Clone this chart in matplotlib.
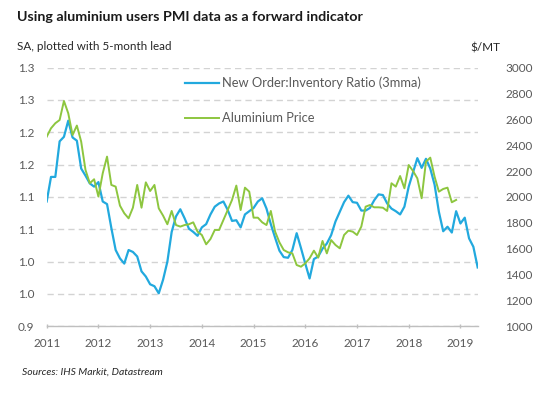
import numpy as np
import matplotlib
matplotlib.use("Agg")
import matplotlib.pyplot as plt

plt.rcParams['font.family'] = ['Lato', 'DejaVu Sans']

# Monthly data, Jan 2011 onward
ratio = [1.093, 1.131, 1.131, 1.186, 1.193, 1.218, 1.192, 1.187, 1.144, 1.133,
         1.121, 1.116, 1.123, 1.093, 1.089, 1.052, 1.018, 1.005, 0.997, 1.018,
         1.015, 1.008, 0.985, 0.977, 0.965, 0.962, 0.951, 0.972, 1.000, 1.046,
         1.070, 1.081, 1.067, 1.051, 1.046, 1.040, 1.053, 1.058, 1.073, 1.085,
         1.090, 1.093, 1.080, 1.063, 1.064, 1.053, 1.073, 1.078, 1.083, 1.093,
         1.098, 1.082, 1.058, 1.037, 1.017, 1.007, 1.006, 1.018, 1.044, 1.021,
         0.997, 0.974, 1.004, 1.008, 1.020, 1.028, 1.041, 1.062, 1.077, 1.092,
         1.102, 1.092, 1.091, 1.079, 1.079, 1.083, 1.095, 1.104, 1.103, 1.090,
         1.082, 1.078, 1.073, 1.085, 1.116, 1.138, 1.160, 1.145, 1.159, 1.144,
         1.119, 1.077, 1.047, 1.054, 1.045, 1.078, 1.059, 1.068, 1.036, 1.023,
         0.991]

price = [2466, 2531, 2570, 2595, 2742, 2647, 2479, 2552, 2428, 2209,
         2106, 2137, 2003, 2183, 2312, 2093, 2080, 1933, 1874, 1835,
         1917, 2093, 1917, 2113, 2046, 2093, 1912, 1856, 1789, 1892,
         1783, 1771, 1783, 1789, 1804, 1732, 1706, 1634, 1675, 1745,
         1745, 1822, 1899, 1977, 2088, 1899, 2072, 2041, 1840, 1840,
         1804, 1783, 1892, 1732, 1649, 1590, 1572, 1564, 1474, 1461,
         1487, 1526, 1585, 1531, 1660, 1564, 1667, 1629, 1603, 1706,
         1740, 1732, 1706, 1771, 1925, 1938, 1920, 1920, 1917, 1892,
         2106, 2080, 2162, 2067, 2247, 2201, 2144, 1990, 2273, 2304,
         2157, 2041, 2062, 2072, 1959, 1977]

years = ['2011', '2012', '2013', '2014', '2015', '2016', '2017', '2018', '2019']
left_ticks = [0.9, 0.95, 1.0, 1.05, 1.1, 1.15, 1.2, 1.25, 1.3]
left_labels = ['0.9', '1.0', '1.0', '1.1', '1.1', '1.2', '1.2', '1.3', '1.3']
right_ticks = [1000, 1200, 1400, 1600, 1800, 2000, 2200, 2400, 2600, 2800, 3000]

BLUE = '#22a9de'
GREEN = '#8dc63f'
GREY = '#595959'

fig = plt.figure(figsize=(5.43, 3.97), dpi=100)
ax = fig.add_axes([0.086, 0.178, 0.7937, 0.6517])
ax2 = ax.twinx()

x1 = np.arange(len(ratio))
x2 = np.arange(len(price))
l1, = ax.plot(x1, ratio, color=BLUE, lw=1.6, label='New Order:Inventory Ratio (3mma)')
l2, = ax2.plot(x2, price, color=GREEN, lw=1.4, label='Aluminium Price')

ax.set_xlim(0, 100)
ax.set_ylim(0.9, 1.3)
ax2.set_ylim(1000, 3000)

ax.set_yticks(left_ticks)
ax.set_yticklabels(left_labels)
ax2.set_yticks(right_ticks)
ax.set_xticks(np.arange(0, 97, 12))
ax.set_xticklabels(years)

for a in (ax, ax2):
    for s in ('top', 'right', 'left'):
        a.spines[s].set_visible(False)
ax2.spines['bottom'].set_visible(False)
ax.spines['bottom'].set_color('#bfbfbf')
ax.spines['bottom'].set_linewidth(1.0)

ax.tick_params(axis='y', length=0, pad=9, labelsize=8.5, labelcolor=GREY)
ax2.tick_params(axis='y', length=0, pad=20, labelsize=8.5, labelcolor=GREY)
ax.tick_params(axis='x', length=3, direction='inout', color='#bfbfbf', width=1,
               pad=7, labelsize=8.5, labelcolor=GREY)

ax.yaxis.grid(True, linestyle=(0, (4.5, 3)), color='#d3d3d3', lw=1.0)
ax.set_axisbelow(True)

fig.text(0.031, 0.957, 'Using aluminium users PMI data as a forward indicator',
         fontsize=10.3, fontweight='bold', color='#1a1a1a', va='center')
fig.text(0.031, 0.882, 'SA, plotted with 5-month lead', fontsize=8.4, color='#262626', va='center')
fig.text(0.866, 0.879, '$/MT', fontsize=8.5, color='#262626', va='center')
fig.text(0.04, 0.063, 'Sources: IHS Markit, Datastream', fontsize=7.5, style='italic',
         color='#262626', va='center')

leg = ax2.legend(handles=[l1, l2], loc='upper left', bbox_to_anchor=(0.295, 1.01),
                 frameon=False, fontsize=9.3, labelcolor=GREY, labelspacing=1.8,
                 handlelength=2.6, handletextpad=0.2)

fig.savefig('out.png', dpi=100)
